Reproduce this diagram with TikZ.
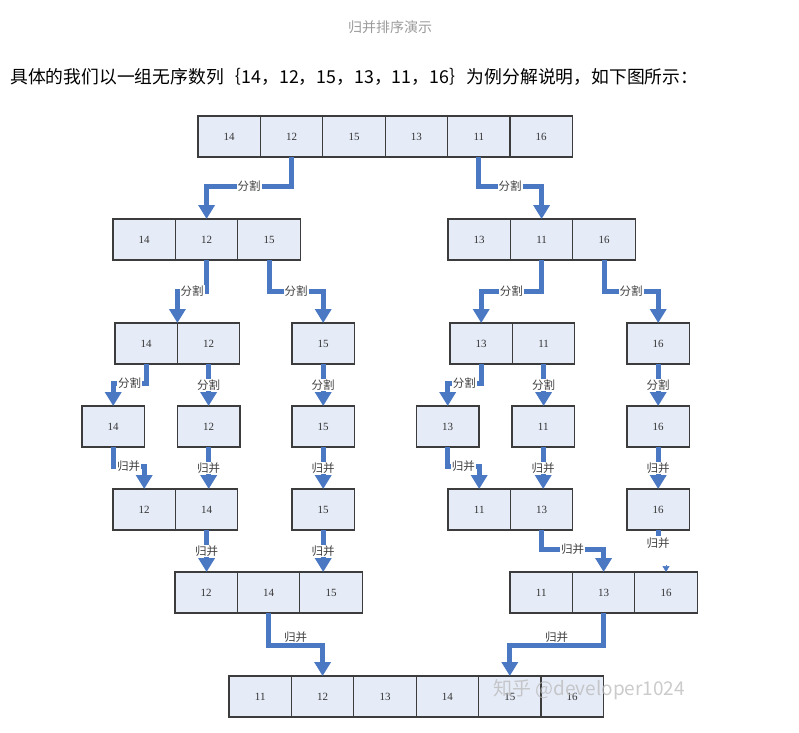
\documentclass[tikz,border=0pt]{standalone}
\usepackage{fontspec}
\usepackage{xcolor}
\usepackage{tikz}
\usetikzlibrary{arrows.meta,positioning}
\setmainfont{Liberation Serif}
\newfontfamily\cjk{Noto Sans CJK SC}
\definecolor{fundocaixa}{HTML}{E6ECF7}
\definecolor{bordacaixa}{HTML}{3C3C3C}
\definecolor{azulseta}{HTML}{4A78C2}
\definecolor{cinzatitulo}{HTML}{9A9A9A}

\begin{document}
\begin{tikzpicture}[x=1pt,y=-1pt,
    cell/.style={draw=bordacaixa,fill=fundocaixa,line width=1.2pt,minimum width=62.4pt,minimum height=41pt,inner sep=0pt,outer sep=0pt,font=\fontsize{11}{11}\selectfont,text=black!80},
    arr/.style={-{Triangle[width=16pt,length=14pt]},draw=azulseta,line width=5pt},
    arrline/.style={draw=azulseta,line width=5pt},
    lbl/.style={fill=white,inner sep=1pt,font=\cjk\fontsize{11.5}{11.5}\selectfont,text=black!75}]
    \useasboundingbox (0,0) rectangle (799,732);

    % textos do topo
    \node[font=\cjk\fontsize{14}{14}\selectfont,text=cinzatitulo] (titulo) at (390,27) {归并排序演示};
    \node[anchor=west,inner sep=0pt,font=\cjk\fontsize{17.8}{17.8}\selectfont] (frase) at (10,77) {具体的我们以一组无序数列｛14，12，15，13，11，16｝为例分解说明，如下图所示：};

    % linha 0
    \node[cell] (r0a) at (229.2,136.5) {14};
    \node[cell,right=0pt of r0a] (r0b) {12};
    \node[cell,right=0pt of r0b] (r0c) {15};
    \node[cell,right=0pt of r0c] (r0d) {13};
    \node[cell,right=0pt of r0d] (r0e) {11};
    \node[cell,right=0pt of r0e] (r0f) {16};

    % linha 1
    \node[cell] (r1a) at (144.2,239.5) {14};
    \node[cell,right=0pt of r1a] (r1b) {12};
    \node[cell,right=0pt of r1b] (r1c) {15};
    \node[cell] (r1d) at (479.2,239.5) {13};
    \node[cell,right=0pt of r1d] (r1e) {11};
    \node[cell,right=0pt of r1e] (r1f) {16};

    % linha 2
    \node[cell] (r2a) at (146.2,343.5) {14};
    \node[cell,right=0pt of r2a] (r2b) {12};
    \node[cell] (r2c) at (323.2,343.5) {15};
    \node[cell] (r2d) at (481.2,343.5) {13};
    \node[cell,right=0pt of r2d] (r2e) {11};
    \node[cell] (r2f) at (658.2,343.5) {16};

    % linha 3
    \node[cell] (r3a) at (113.2,426.5) {14};
    \node[cell] (r3b) at (208.7,426.5) {12};
    \node[cell] (r3c) at (323.2,426.5) {15};
    \node[cell] (r3d) at (447.7,426.5) {13};
    \node[cell] (r3e) at (543.2,426.5) {11};
    \node[cell] (r3f) at (658.2,426.5) {16};

    % linha 4
    \node[cell] (r4a) at (144.2,509.5) {12};
    \node[cell,right=0pt of r4a] (r4b) {14};
    \node[cell] (r4c) at (323.2,509.5) {15};
    \node[cell] (r4d) at (479.2,509.5) {11};
    \node[cell,right=0pt of r4d] (r4e) {13};
    \node[cell] (r4f) at (658.2,509.5) {16};

    % linha 5
    \node[cell] (r5a) at (206.2,592.5) {12};
    \node[cell,right=0pt of r5a] (r5b) {14};
    \node[cell,right=0pt of r5b] (r5c) {15};
    \node[cell] (r5d) at (541.2,592.5) {11};
    \node[cell,right=0pt of r5d] (r5e) {13};
    \node[cell,right=0pt of r5e] (r5f) {16};

    % linha 6
    \node[cell] (r6a) at (260.2,696.5) {11};
    \node[cell,right=0pt of r6a] (r6b) {12};
    \node[cell,right=0pt of r6b] (r6c) {13};
    \node[cell,right=0pt of r6c] (r6d) {14};
    \node[cell,right=0pt of r6d] (r6e) {15};
    \node[cell,right=0pt of r6e] (r6f) {16};

    % divisoes
    \draw[arr] (r0b.south) -- ++(0,29) -| node[lbl,pos=0.25] {分割} (r1b.north);
    \draw[arr] (r0e.south) -- ++(0,29) -| node[lbl,pos=0.25] {分割} (r1e.north);
    \draw[arr] (r1b.south) -- ++(0,31) -| node[lbl,pos=0.25] {分割} (r2a.north east);
    \draw[arr] (r1c.south) -- ++(0,31) -| node[lbl,pos=0.25] {分割} (r2c.north);
    \draw[arr] (r1e.south) -- ++(0,31) -| node[lbl,pos=0.25] {分割} (r2d.north);
    \draw[arr] (r1f.south) -- ++(0,31) -| node[lbl,pos=0.25] {分割} (r2f.north);
    \draw[arr] (r2a.south) -- ++(0,19) -| node[lbl,pos=0.25] {分割} (r3a.north);
    \draw[arr] (r2b.south) -- node[lbl] {分割} (r2b.south |- r3b.north);
    \draw[arr] (r2c.south) -- node[lbl] {分割} (r3c.north);
    \draw[arr] (r2d.south) -- ++(0,19) -| node[lbl,pos=0.25] {分割} (r3d.north);
    \draw[arr] (r2e.south) -- node[lbl] {分割} (r2e.south |- r3e.north);
    \draw[arr] (r2f.south) -- node[lbl] {分割} (r3f.north);

    % fusoes
    \draw[arr] (r3a.south) -- ++(0,19) -| node[lbl,pos=0.25] {归并} (r4a.north);
    \draw[arr] (r3b.south) -- node[lbl] {归并} (r3b.south |- r4b.north);
    \draw[arr] (r3c.south) -- node[lbl] {归并} (r4c.north);
    \draw[arr] (r3d.south) -- ++(0,19) -| node[lbl,pos=0.25] {归并} (r4d.north);
    \draw[arr] (r3e.south) -- node[lbl] {归并} (r3e.south |- r4e.north);
    \draw[arr] (r3f.south) -- node[lbl] {归并} (r4f.north);
    \draw[arr] (r4b.south) -- node[lbl] {归并} (r4b.south |- r5a.north);
    \draw[arr] (r4c.south) -- node[lbl] {归并} (r4c.south |- r5c.north);
    \draw[arr] (r4e.south) -- ++(0,19) -| node[lbl,pos=0.25] {归并} (r5e.north);
    \node[lbl,fill=none] (l16) at (658.2,543) {归并};
    \draw[arrline] (r4f.south) -- (l16.north);
    \coordinate (p16) at (666,565);
    \draw[-{Triangle[width=7pt,length=6pt]},draw=azulseta,line width=0.6pt] (p16) -- (p16 |- r5f.north);
    \draw[arr] (r5b.south) -- ++(0,32) -| node[lbl,pos=0.25,yshift=8pt] {归并} (r6b.north);
    \draw[arr] (r5e.south) -- ++(0,32) -| node[lbl,pos=0.25,yshift=8pt] {归并} (r6e.north);

    % marca de agua
    \node[font=\cjk\fontsize{19}{19}\selectfont,text=gray!55,opacity=0.75] (marca) at (589,690) {知乎 @developer1024};
\end{tikzpicture}
\end{document}
